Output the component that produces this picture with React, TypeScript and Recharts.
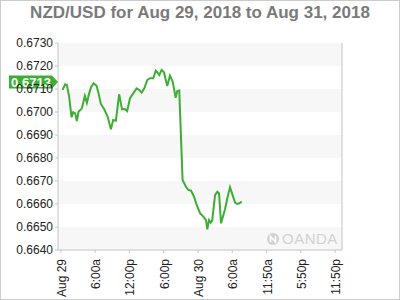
import React from 'react';
import { LineChart, Line, XAxis, YAxis, CartesianGrid, ReferenceDot } from 'recharts';

// hours since Aug 29 00:00
const hours = [
  0.3, 0.75, 1.05, 1.45, 1.87, 2.15, 2.5, 2.8, 3.1, 3.68, 4.2, 4.55, 4.96, 5.26, 5.73, 6.25,
  6.6, 7.0, 7.59, 8.18, 8.76, 9.16, 9.63, 10.2, 10.7, 11.2, 11.6, 12.1, 12.67, 13.26, 13.72,
  14.14, 14.6, 15.12, 15.6, 16.17, 16.59, 16.87, 17.22, 17.64, 18.04, 18.62, 19.09, 19.57,
  20.09, 20.37, 20.72, 21.3, 21.9, 22.3, 22.77, 23.3, 23.77, 24.35, 24.93, 25.4, 25.63,
  25.93, 26.22, 26.5, 26.98, 27.38, 27.68, 28.03, 28.73, 29.13, 29.6, 30.0, 30.48, 30.88,
  31.23, 31.65,
];
const rates = [
  0.67096, 0.6712, 0.67117, 0.67067, 0.66977, 0.66999, 0.66994, 0.66961, 0.67001, 0.67016,
  0.6707, 0.6704, 0.67081, 0.67107, 0.67125, 0.67114, 0.67081, 0.67035, 0.67012, 0.6698,
  0.66925, 0.66965, 0.66962, 0.67077, 0.67012, 0.67013, 0.67004, 0.6706, 0.67081, 0.67103,
  0.67096, 0.67084, 0.67103, 0.67139, 0.67147, 0.67147, 0.6718, 0.67173, 0.67161, 0.67183,
  0.67173, 0.67113, 0.67158, 0.67132, 0.67062, 0.67091, 0.67093, 0.66704, 0.66675, 0.66661,
  0.66658, 0.66632, 0.66596, 0.6656, 0.66545, 0.6653, 0.6649, 0.6653, 0.66519, 0.6653,
  0.66639, 0.66653, 0.66647, 0.66516, 0.66577, 0.66625, 0.66673, 0.66643, 0.66606, 0.666,
  0.66603, 0.6661,
];
const xTickHours = [0, 6, 12, 18, 24, 30, 36, 42, 48];
const xTickLabels = ['Aug 29', '6:00a', '12:00p', '6:00p', 'Aug 30', '6:00a', '11:50a', '5:50p', '11:50p'];
const yTicks = [0.664, 0.665, 0.666, 0.667, 0.668, 0.669, 0.67, 0.671, 0.672, 0.673];
const xDomain = [-0.5, 49.2];
const leftTagValue = 0.6713;
const rightTagValue = 0.666;
const title = 'NZD/USD for Aug 29, 2018 to Aug 31, 2018';

const GREEN = '#3dae34';
const AXIS = '#c4c4c4';

const data = hours.map((h, i) => ({ h, v: rates[i] }));

const XTick = (props: any) => {
  const { x, y, payload } = props;
  const idx = xTickHours.indexOf(payload.value);
  return (
    <g transform={`translate(${x},${y})`}>
      <text transform="rotate(-90)" x={-4} y={5} textAnchor="end" fill="#222" fontSize={12}>
        {xTickLabels[idx]}
      </text>
    </g>
  );
};

const LeftTag = (props: any) => {
  const { cx, cy } = props;
  return (
    <g>
      <path
        d={`M${cx - 49},${cy - 6.5} H${cx - 6} L${cx},${cy} L${cx - 6},${cy + 6.5} H${cx - 49} Z`}
        fill={GREEN}
      />
      <text x={cx - 27} y={cy + 4.5} textAnchor="middle" fill="#fff" fontWeight="bold" fontSize={13}>
        {leftTagValue.toFixed(4)}
      </text>
    </g>
  );
};

const RightTag = (props: any) => {
  const { cx, cy } = props;
  return (
    <g>
      <path
        d={`M${cx + 1},${cy} L${cx + 7},${cy - 6.5} H${cx + 51} V${cy + 6.5} H${cx + 7} Z`}
        fill={GREEN}
      />
      <text x={cx + 29} y={cy + 4.5} textAnchor="middle" fill="#fff" fontWeight="bold" fontSize={13}>
        {rightTagValue.toFixed(4)}
      </text>
    </g>
  );
};

export default function App() {
  return (
    <div
      style={{
        position: 'absolute',
        left: 0,
        top: 0,
        width: 400,
        height: 300,
        background: '#fff',
        fontFamily: '"Liberation Sans", Arial, sans-serif',
      }}
    >
      <div
        style={{
          position: 'absolute',
          left: 0,
          top: 3,
          width: 400,
          textAlign: 'center',
          fontWeight: 'bold',
          fontSize: 17,
          color: '#7a7a7a',
        }}
      >
        {title}
      </div>
      <LineChart width={400} height={300} data={data} margin={{ top: 43, right: 0, bottom: 0, left: 0 }}>
        <CartesianGrid
          yAxisId="left"
          vertical={false}
          stroke="none"
          horizontalFill={['#f7f7f7', '#ffffff']}
          fillOpacity={1}
        />
        <XAxis
          dataKey="h"
          type="number"
          domain={xDomain}
          ticks={xTickHours}
          interval={0}
          height={50}
          tick={<XTick />}
          tickSize={3}
          axisLine={{ stroke: AXIS }}
          tickLine={{ stroke: AXIS }}
          allowDataOverflow
        />
        <YAxis
          yAxisId="left"
          orientation="left"
          width={58}
          domain={[0.664, 0.673]}
          ticks={yTicks}
          interval={0}
          tickFormatter={(v: number) => v.toFixed(4)}
          tick={{ fill: '#222', fontSize: 12 }}
          tickSize={3}
          tickMargin={2}
          axisLine={{ stroke: AXIS }}
          tickLine={{ stroke: AXIS }}
        />
        <YAxis
          yAxisId="right"
          orientation="right"
          width={58}
          domain={[0.664, 0.673]}
          ticks={yTicks}
          interval={0}
          tickFormatter={(v: number) => v.toFixed(4)}
          tick={{ fill: '#222', fontSize: 12 }}
          tickSize={3}
          tickMargin={2}
          axisLine={{ stroke: AXIS }}
          tickLine={{ stroke: AXIS }}
        />
        <Line
          yAxisId="left"
          dataKey="v"
          type="linear"
          stroke={GREEN}
          strokeWidth={2}
          dot={false}
          isAnimationActive={false}
        />
        <ReferenceDot yAxisId="left" x={xDomain[0]} y={leftTagValue} ifOverflow="visible" shape={<LeftTag />} />
        <ReferenceDot yAxisId="right" x={xDomain[1]} y={rightTagValue} ifOverflow="visible" shape={<RightTag />} />
      </LineChart>
      <div
        style={{
          position: 'absolute',
          left: 267,
          top: 230,
          display: 'flex',
          alignItems: 'center',
          color: '#d2d2d2',
          fontSize: 15,
          letterSpacing: 0.5,
        }}
      >
        <svg width={12} height={12} style={{ marginRight: 3 }}>
          <circle cx={6} cy={6} r={6} fill="#d2d2d2" />
          <path d="M3.5,9 V3.5 L8.5,9 V3" stroke="#fff" strokeWidth={1.6} fill="none" />
        </svg>
        <span>OANDA</span>
      </div>
      <div
        style={{
          position: 'absolute',
          left: 0,
          top: 0,
          width: 400,
          height: 300,
          boxSizing: 'border-box',
          border: '1px solid #cccccc',
          pointerEvents: 'none',
        }}
      />
    </div>
  );
}
